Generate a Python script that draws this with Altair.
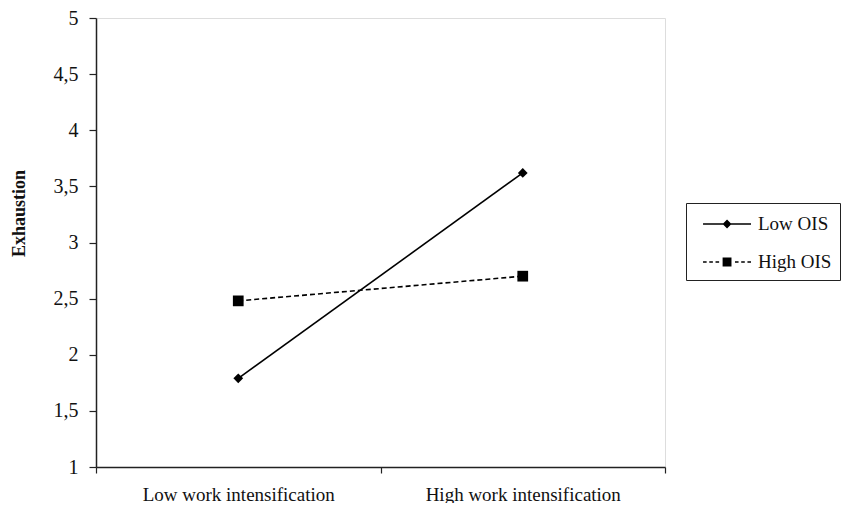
import altair as alt
import pandas as pd

categories = ["Low work intensification", "High work intensification"]
series = ["Low OIS", "High OIS"]
low_ois = [1.79, 3.62]
high_ois = [2.48, 2.70]
y_ticks = [1, 1.5, 2, 2.5, 3, 3.5, 4, 4.5, 5]

rows = []
for name, vals in zip(series, [low_ois, high_ois]):
    for c, v in zip(categories, vals):
        rows.append({"condition": c, "series": name, "value": v})
df = pd.DataFrame(rows)

FONT = "Liberation Serif"


def seg(x0, x1, h=0.06):
    return f"M{x0},{-h}H{x1}V{h}H{x0}Z"


# legend symbols: line + marker drawn as filled custom paths (unit = half symbol side)
path_low = seg(-0.33, 3.67) + "M1.3,0L1.67,-0.37L2.04,0L1.67,0.37Z"
path_high = (
    "".join(seg(a, b) for a, b in [(-0.33, -0.03), (0.19, 0.49), (0.71, 1.01),
                                    (2.33, 2.63), (2.85, 3.15), (3.37, 3.67)])
    + "M1.3,-0.37H2.04V0.37H1.3Z"
)

x_enc = alt.X(
    "condition:N",
    sort=categories,
    scale=alt.Scale(type="band", domain=categories, paddingInner=0, paddingOuter=0),
    axis=alt.Axis(
        title=None, labelAngle=0, tickBand="extent", tickSize=6, labelLimit=0,
        labelFont=FONT, labelFontSize=19, labelColor="#111", labelPadding=12,
        domainColor="#222", domainWidth=1.5, tickColor="#222", tickWidth=1.2,
    ),
)
y_enc = alt.Y(
    "value:Q",
    scale=alt.Scale(domain=[1, 5], nice=False),
    axis=alt.Axis(
        values=y_ticks, grid=False, tickSize=7, labelPadding=11,
        labelExpr="replace(format(datum.value, '.1~f'), '.', ',')",
        labelFont=FONT, labelFontSize=20, labelColor="#111",
        domainColor="#222", domainWidth=1.5, tickColor="#222", tickWidth=1.2,
        title="Exhaustion", titleFont=FONT, titleFontSize=18, titleFontWeight="bold",
        titleColor="#111", titleX=-77, titleY=195, titleAngle=-90,
        titleAlign="center", titleBaseline="middle",
    ),
)

base = alt.Chart(df).encode(x=x_enc, y=y_enc)

line_low = base.transform_filter(alt.datum.series == "Low OIS").mark_line(
    color="black", strokeWidth=1.6
)
line_high = base.transform_filter(alt.datum.series == "High OIS").mark_line(
    color="black", strokeWidth=1.6, strokeDash=[5, 3]
)

pts_low = base.transform_filter(alt.datum.series == "Low OIS").mark_point(
    shape="diamond", filled=True, color="black", size=95, opacity=1
)
pts_high = base.transform_filter(alt.datum.series == "High OIS").mark_point(
    shape="square", filled=True, color="black", size=115, opacity=1
)

legend_layer = base.mark_point(
    filled=True, fill="black", opacity=0
).encode(
    shape=alt.Shape(
        "series:N",
        scale=alt.Scale(domain=series, range=[path_low, path_high]),
        legend=alt.Legend(
            title=None, orient="none", legendX=590, legendY=185,
            strokeColor="#222", padding=8, rowPadding=15,
            symbolSize=576, symbolFillColor="black",
            symbolOpacity=1, labelOffset=38,
            labelFont=FONT, labelFontSize=19, labelColor="#111",
        ),
    )
)

chart = (
    alt.layer(line_low, line_high, pts_low, pts_high, legend_layer)
    .properties(
        width=569, height=449,
        autosize=alt.AutoSizeParams(type="none"),
        padding={"left": 88, "top": 10, "right": 178, "bottom": 36},
    )
    .configure_view(stroke="#333", strokeWidth=1.2)
    .configure(background="white")
)

chart.save("out.html", embed_options={"renderer": "svg", "actions": False})
